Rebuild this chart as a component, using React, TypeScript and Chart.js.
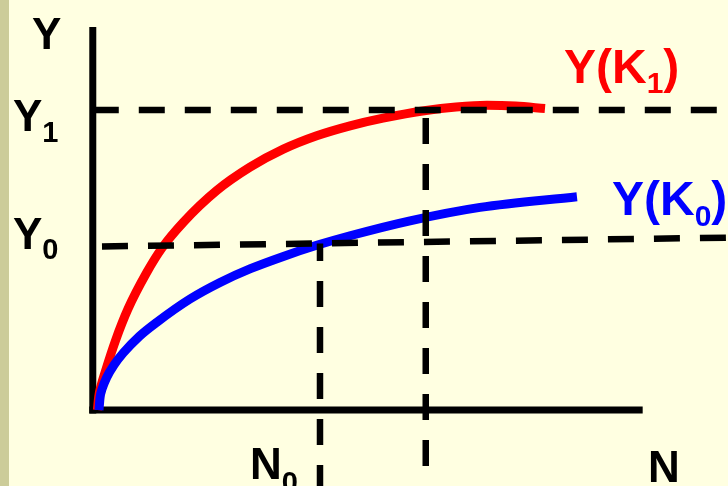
import React, { useEffect, useRef } from "react";
import { Chart, registerables } from "chart.js";

Chart.register(...registerables);

// Production function Y(K1) (upper, red) and Y(K0) (lower, blue); N on x, Y on y (axis length = 100 units)
const k1N = [-0.3, -0.05, 0.35, 1.11, 3.09, 5.36, 8.82, 11.65, 15.58, 21.76, 27.91, 34.07, 40.24, 46.4, 52.5, 60.44, 66, 71.72, 77, 82.44];
const k1Y = [0, 3.5, 6.2, 9.8, 18.3, 26.4, 35.9, 42.3, 49.0, 57.3, 63.4, 68.1, 71.6, 74.2, 76.2, 78.2, 79.1, 79.55, 79.35, 78.7];
const k0N = [0, 0.2, 0.6, 1.42, 2.8, 4.49, 7.5, 10.67, 16.82, 22.37, 28, 34.07, 40.24, 46.4, 57.49, 70.43, 88.35];
const k0Y = [0, 3.3, 5.6, 8.5, 11.8, 14.9, 19.3, 22.9, 28.98, 33.3, 36.9, 40.1, 43.0, 45.5, 49.4, 52.9, 55.7];

// reference levels
const Y1 = 78.3;
const Y0Left = 42.7;
const Y0Right = 45.0;
const Y0AtN0 = 43.5;
const N0 = 40.85;
const N1 = 60.4;

// axis extents
const yAxisAtN = -1.15;
const axisTopY = 100;
const axisEndN = 100.5;

const X_MIN = -18.3;
const X_MAX = 116.27;
const Y_MIN = -19.84;
const Y_MAX = 107.05;

const FONT = '"Liberation Sans", Arial, sans-serif';

function pts(xs: number[], ys: number[]) {
  return xs.map((x, i) => ({ x, y: ys[i] }));
}

export default function App() {
  const ref = useRef<HTMLCanvasElement | null>(null);

  useEffect(() => {
    if (!ref.current) return;

    const bgPlugin = {
      id: "bg",
      beforeDraw(chart: any) {
        const { ctx, width, height } = chart;
        ctx.save();
        ctx.fillStyle = "#FFFFE1";
        ctx.fillRect(0, 0, width, height);
        ctx.fillStyle = "#CCCC99";
        ctx.fillRect(0, 0, 9, height);
        ctx.restore();
      },
    };

    const textPlugin = {
      id: "texts",
      afterDatasetsDraw(chart: any) {
        const { ctx } = chart;
        const xs = chart.scales.x;
        const ys = chart.scales.y;
        ctx.save();
        ctx.textAlign = "left";
        ctx.textBaseline = "alphabetic";

        const sub = (
          main: string, s: string, tail: string,
          x: number, y: number, dy: number, color: string,
          bigPx: number, smallPx: number
        ) => {
          const big = `bold ${bigPx}px ${FONT}`;
          const small = `bold ${smallPx}px ${FONT}`;
          ctx.fillStyle = color;
          ctx.font = big;
          ctx.fillText(main, x, y);
          const w1 = ctx.measureText(main).width;
          ctx.font = small;
          ctx.fillText(s, x + w1, y + dy);
          const w2 = ctx.measureText(s).width;
          if (tail) {
            ctx.font = big;
            ctx.fillText(tail, x + w1 + w2, y);
          }
        };

        // axis titles
        ctx.fillStyle = "#000";
        ctx.font = `bold 44px ${FONT}`;
        ctx.fillText("Y", 32, 49);
        ctx.fillText("N", 648, 482);

        // level labels
        const y1px = ys.getPixelForValue(Y1);
        const y0px = ys.getPixelForValue(Y0Left);
        sub("Y", "1", "", 13, y1px + 21, 11, "#000", 44, 29);
        sub("Y", "0", "", 13, y0px + 2.5, 10, "#000", 44, 29);
        const n0px = xs.getPixelForValue(N0);
        sub("N", "0", "", n0px - 70, 479, 13, "#000", 44, 29);

        // curve labels
        sub("Y(K", "1", ")", 564, 83, 10, "#FF0000", 48, 30);
        sub("Y(K", "0", ")", 612, 215, 11, "#0000FF", 48, 30);
        ctx.restore();
      },
    };

    const line = (data: any[], color: string, width: number, order: number, extra: any = {}) => ({
      data,
      borderColor: color,
      backgroundColor: color,
      borderWidth: width,
      pointRadius: 0,
      pointHoverRadius: 0,
      showLine: true,
      fill: false,
      order,
      borderCapStyle: "butt",
      ...extra,
    });

    const chart = new Chart(ref.current, {
      type: "scatter",
      data: {
        datasets: [
          line(pts(k1N, k1Y), "#FF0000", 9, 2, { cubicInterpolationMode: "monotone" }),
          line(pts(k0N, k0Y), "#0000FF", 9, 1, { cubicInterpolationMode: "monotone" }),
          line([{ x: yAxisAtN, y: Y1 }, { x: X_MAX + 2, y: Y1 }], "#000", 6.5, 0, { borderDash: [26, 20] }),
          line([{ x: 0.55, y: Y0Left }, { x: X_MAX, y: Y0Right }], "#000", 6.5, 0, { borderDash: [26, 20] }),
          line([{ x: N0, y: Y0AtN0 }, { x: N0, y: Y_MIN - 2 }], "#000", 6.5, 0, { borderDash: [26, 20], borderDashOffset: 8.5 }),
          line([{ x: N1, y: Y1 }, { x: N1, y: -15.1 }], "#000", 6.5, 0, { borderDash: [26, 20], borderDashOffset: 38 }),
          line([{ x: yAxisAtN, y: -0.9 }, { x: yAxisAtN, y: axisTopY }], "#000", 7, 3),
          line([{ x: -1.8, y: 0 }, { x: axisEndN, y: 0 }], "#000", 7, 3),
        ],
      },
      options: {
        animation: false,
        responsive: false,
        maintainAspectRatio: false,
        layout: { padding: 0 },
        events: [],
        plugins: {
          legend: { display: false },
          tooltip: { enabled: false },
          title: { display: false },
        },
        scales: {
          x: { type: "linear", min: X_MIN, max: X_MAX, display: false },
          y: { type: "linear", min: Y_MIN, max: Y_MAX, display: false },
        },
      },
      plugins: [bgPlugin, textPlugin],
    } as any);

    return () => chart.destroy();
  }, []);

  return (
    <div style={{ position: "fixed", left: 0, top: 0, width: 728, height: 486, background: "#FFFFE1" }}>
      <canvas ref={ref} width={728} height={486} style={{ display: "block", width: 728, height: 486 }} />
    </div>
  );
}
